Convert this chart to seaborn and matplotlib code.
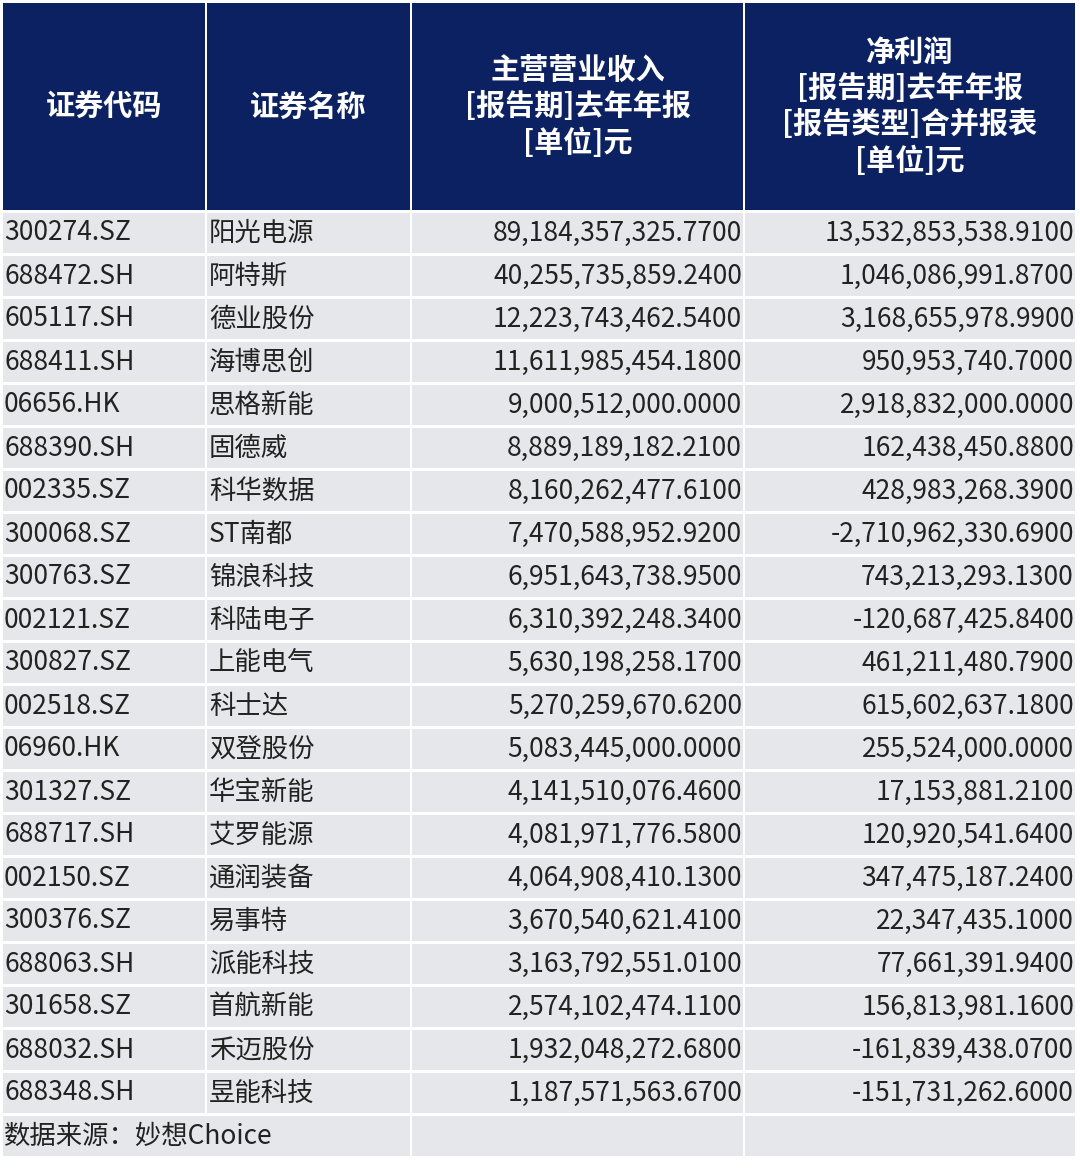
import matplotlib
matplotlib.use("Agg")
import matplotlib.pyplot as plt
import seaborn as sns
from matplotlib.patches import Rectangle

sns.set_theme(style="white")
plt.rcParams['font.family'] = ['Noto Sans CJK SC', 'DejaVu Sans']

headers = ["证券代码", "证券名称", "主营营业收入\n[报告期]去年年报\n[单位]元",
           "净利润\n[报告期]去年年报\n[报告类型]合并报表\n[单位]元"]
codes = ["300274.SZ","688472.SH","605117.SH","688411.SH","06656.HK","688390.SH","002335.SZ",
         "300068.SZ","300763.SZ","002121.SZ","300827.SZ","002518.SZ","06960.HK","301327.SZ",
         "688717.SH","002150.SZ","300376.SZ","688063.SH","301658.SZ","688032.SH","688348.SH"]
names = ["阳光电源","阿特斯","德业股份","海博思创","思格新能","固德威","科华数据","ST南都","锦浪科技",
         "科陆电子","上能电气","科士达","双登股份","华宝新能","艾罗能源","通润装备","易事特","派能科技",
         "首航新能","禾迈股份","昱能科技"]
revenue = ["89,184,357,325.7700","40,255,735,859.2400","12,223,743,462.5400","11,611,985,454.1800",
           "9,000,512,000.0000","8,889,189,182.2100","8,160,262,477.6100","7,470,588,952.9200",
           "6,951,643,738.9500","6,310,392,248.3400","5,630,198,258.1700","5,270,259,670.6200",
           "5,083,445,000.0000","4,141,510,076.4600","4,081,971,776.5800","4,064,908,410.1300",
           "3,670,540,621.4100","3,163,792,551.0100","2,574,102,474.1100","1,932,048,272.6800",
           "1,187,571,563.6700"]
profit = ["13,532,853,538.9100","1,046,086,991.8700","3,168,655,978.9900","950,953,740.7000",
          "2,918,832,000.0000","162,438,450.8800","428,983,268.3900","-2,710,962,330.6900",
          "743,213,293.1300","-120,687,425.8400","461,211,480.7900","615,602,637.1800",
          "255,524,000.0000","17,153,881.2100","120,920,541.6400","347,475,187.2400",
          "22,347,435.1000","77,661,391.9400","156,813,981.1600","-161,839,438.0700",
          "-151,731,262.6000"]
source = "数据来源：妙想Choice"

W, H = 1080, 1172
fig = plt.figure(figsize=(W/100, H/100), dpi=100)
ax = fig.add_axes([0, 0, 1, 1])
ax.set_xlim(0, W); ax.set_ylim(H, 0); ax.axis("off")

cols = [(3, 205), (207, 410), (412, 743), (745, 1075)]
navy = "#0b2161"; gray = "#e6e7ea"
hy0, hy1 = 3, 210
for (x0, x1), h in zip(cols, headers):
    ax.add_patch(Rectangle((x0, hy0), x1-x0, hy1-hy0, color=navy, lw=0))
    ax.text((x0+x1)/2, (hy0+hy1)/2, h, color="white", ha="center", va="center",
            fontsize=21, fontweight="bold", linespacing=1.25)

rh = 43.0
y0 = 213
fs = 19
for i in range(len(codes)):
    top = y0 + i*rh
    for (x0, x1) in cols:
        ax.add_patch(Rectangle((x0, top), x1-x0, rh-3, color=gray, lw=0))
    cy = top + (rh-3)/2
    ax.text(cols[0][0]+1, cy, codes[i], ha="left", va="center", fontsize=fs, color="#222")
    ax.text(cols[1][0]+2, cy, names[i], ha="left", va="center", fontsize=fs, color="#222")
    ax.text(cols[2][1]-1, cy, revenue[i], ha="right", va="center", fontsize=fs, color="#222")
    ax.text(cols[3][1]-1, cy, profit[i], ha="right", va="center", fontsize=fs, color="#222")

top = y0 + len(codes)*rh
ax.add_patch(Rectangle((cols[0][0], top), cols[1][1]-cols[0][0], rh-3, color=gray, lw=0))
for (x0, x1) in cols[2:]:
    ax.add_patch(Rectangle((x0, top), x1-x0, rh-3, color=gray, lw=0))
ax.text(cols[0][0]+1, top+(rh-3)/2, source, ha="left", va="center", fontsize=fs, color="#222")

fig.savefig("out.png", dpi=100, facecolor="white")
